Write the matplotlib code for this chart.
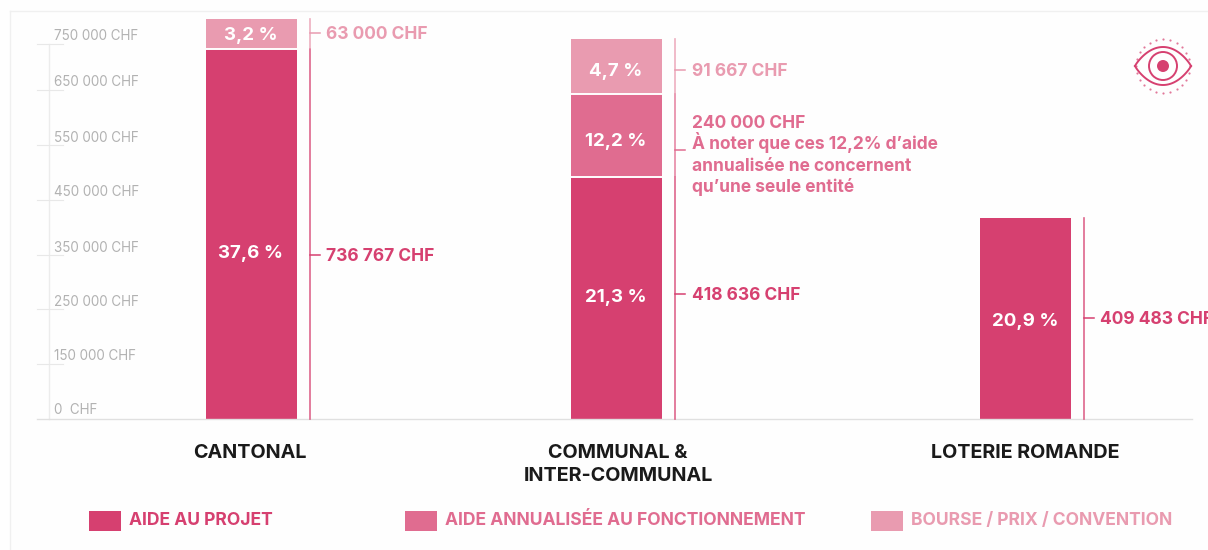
import numpy as np
import matplotlib
matplotlib.use("Agg")
import matplotlib.pyplot as plt
from matplotlib.patches import Rectangle, Circle

plt.rcParams['font.family'] = ['Inter', 'DejaVu Sans']

# Donnees (hauteurs dessinees, le graphique n'est pas a l'echelle)
categories = ["CANTONAL", "COMMUNAL &\nINTER-COMMUNAL", "LOTERIE ROMANDE"]
aide_projet = [740000, 484000, 402000]
aide_annualisee = [0, 166000, 0]
bourse_prix = [60000, 110000, 0]

pct_projet = ["37,6 %", "21,3 %", "20,9 %"]
pct_annualisee = ["", "12,2 %", ""]
pct_bourse = ["3,2 %", "4,7 %", ""]

chf_projet = ["736 767 CHF", "418 636 CHF", "409 483 CHF"]
chf_annualisee = ["", "240 000 CHF\nÀ noter que ces 12,2% d’aide\nannualisée ne concernent\nqu’une seule entité", ""]
chf_bourse = ["63 000 CHF", "91 667 CHF", ""]

tick_pos = [0, 110000, 220000, 328000, 438000, 548000, 658000, 750000]
tick_labels = ["0  CHF", "150 000 CHF", "250 000 CHF", "350 000 CHF", "450 000 CHF",
               "550 000 CHF", "650 000 CHF", "750 000 CHF"]
legend_labels = ["AIDE AU PROJET", "AIDE ANNUALISÉE AU FONCTIONNEMENT", "BOURSE / PRIX / CONVENTION"]

bar_x = [251, 616, 1025]
bar_w = 91
c1 = "#d64070"
c2 = "#e06c90"
c3 = "#e99bb0"
colors = [c1, c2, c3]
W, H = 1208, 550
base = 419
k = 2000  # CHF par pixel

# hauteur (px depuis la base) : pourcentage, ligne de base du montant, tiret
pos_projet = [(166, 158, 164), (122, 119, 125), (97, 95, 101)]
pos_annualisee = [None, (277, 291, 269), None]
pos_bourse = [(383, 380, 386), (348, 343, 349), None]

fig = plt.figure(figsize=(W / 100, H / 100), dpi=100, facecolor="#fefefe")
ax = fig.add_axes([0, 0, 1, 1])
ax.set_xlim(0, W)
ax.set_ylim(-(H - base) * k, base * k)
ax.axis("off")

# cadre tres pale
ax.plot([10, 10], [-(H - base) * k, (base - 11) * k], color="#f0f0f0", lw=1)
ax.plot([10, W], [(base - 11) * k, (base - 11) * k], color="#f0f0f0", lw=1)

# axe
ax.plot([49, 49], [0, 750000], color="#ececec", lw=1)
ax.plot([37, 1192], [0, 0], color="#e0e0e0", lw=1)
for p, lab in zip(tick_pos, tick_labels):
    if p > 0:
        ax.plot([37, 63], [p, p], color="#e8e8e8", lw=0.8)
    ax.text(54, p + 7.5 * k + (2 * k if p == 0 else 0), lab, color="#b2b2b2", fontsize=9.7,
            va="center", ha="left")

# barres
series = [(aide_projet, pct_projet, chf_projet, pos_projet),
          (aide_annualisee, pct_annualisee, chf_annualisee, pos_annualisee),
          (bourse_prix, pct_bourse, chf_bourse, pos_bourse)]
bottom = np.zeros(3)
for (vals, pcts, chfs, pos), col in zip(series, colors):
    vals = np.array(vals)
    ax.bar(bar_x, vals, width=bar_w, bottom=bottom, color=col, edgecolor="none")
    for i in range(3):
        if vals[i] == 0:
            continue
        b0 = bottom[i]
        b1 = bottom[i] + vals[i]
        if b0 > 0:
            ax.plot([bar_x[i] - bar_w / 2, bar_x[i] + bar_w / 2], [b0, b0], color="white", lw=1.4)
        # ligne laterale
        lx = bar_x[i] + bar_w / 2 + 13
        gap = 1.5 * k if b0 > 0 else 0
        ax.plot([lx, lx], [b0 + gap, b1], color=col, lw=1.2, alpha=0.8)
        yp, yc, yd = pos[i]
        ax.plot([lx, lx + 10], [yd * k, yd * k], color=col, lw=1.1)
        ax.text(bar_x[i], yp * k, pcts[i], color="white", fontsize=13.5, fontweight="bold",
                ha="center", va="center")
        # ligne par ligne, sinon le A accent decale l'interligne
        for j, ligne in enumerate(chfs[i].split("\n")):
            ax.text(lx + 17, (yc - j * 21.3) * k, ligne, color=col, fontsize=12.5, fontweight="bold",
                    ha="left", va="baseline")
    bottom = bottom + vals

# categories
for x, lab in zip([250, 618, 1025], categories):
    ax.text(x, -25 * k, lab, color="#1a1a1a", fontsize=14.2, fontweight="bold",
            ha="center", va="top", linespacing=1.38)

# legende
for x, lab, col in zip([89, 405, 871], legend_labels, colors):
    ax.add_patch(Rectangle((x, -112 * k), 32, 20 * k, color=col, lw=0))
    ax.text(x + 40, -101.5 * k, lab, color=col, fontsize=12.6, fontweight="bold", ha="left", va="center")

# icone oeil
ix, iy, s = 1163, 66, 64
ic = fig.add_axes([(ix - s / 2) / W, 1 - (iy + s / 2) / H, s / W, s / H])
ic.set_xlim(-32, 32)
ic.set_ylim(-32, 32)
ic.axis("off")
t = np.linspace(-1, 1, 60)
ic.plot(28 * t, 19 * (1 - t ** 2) ** 0.9, color=c1, lw=1.4)
ic.plot(28 * t, -19 * (1 - t ** 2) ** 0.9, color=c1, lw=1.4)
ic.add_patch(Circle((0, 0), 14, fill=False, ec=c1, lw=1.4))
ic.add_patch(Circle((0, 0), 6, color=c1, lw=0))
a = np.linspace(0, 2 * np.pi, 24, endpoint=False)
ic.scatter(27 * np.cos(a), 27 * np.sin(a), s=2.5, color=c1, lw=0, alpha=0.7)

plt.savefig("out.png", dpi=100, facecolor=fig.get_facecolor())
